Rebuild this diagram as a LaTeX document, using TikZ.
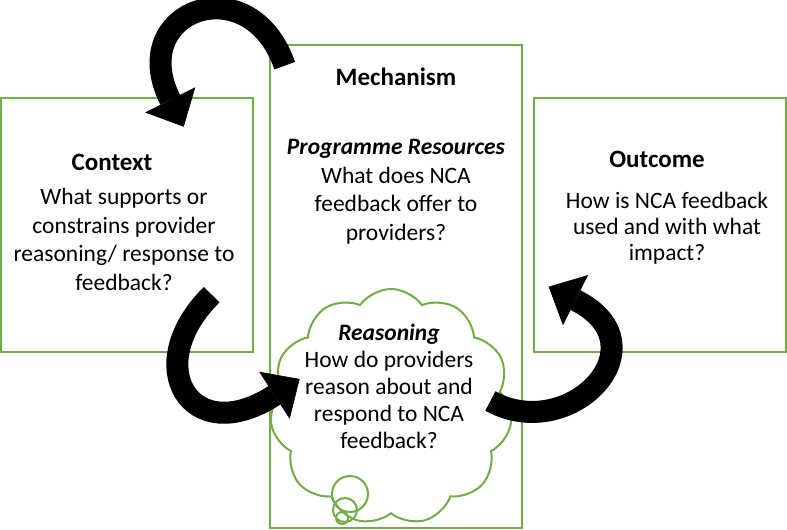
\documentclass[tikz,border=0pt]{standalone}
\usepackage{fontspec}
\setmainfont{Carlito}
\usetikzlibrary{arrows.meta,shapes.symbols}
\definecolor{leaf}{RGB}{112,173,71}
\tikzset{
  frame/.style={draw=leaf,line width=2.6pt,minimum width=252pt,inner sep=0pt},
  thought/.style={cloud,cloud puffs=11,cloud puff arc=110,draw=leaf,
    line width=2pt,minimum width=242pt,minimum height=236pt,inner sep=0pt},
  bubble/.style={draw=leaf,line width=2pt},
  head/.style={font=\fontsize{25}{29}\selectfont\bfseries},
  body/.style={font=\fontsize{23.5}{#1}\selectfont,align=center},
  body/.default=28.5,
  bend arrow/.style={line width=22pt,
    -{Triangle[length=30pt,width=56pt,line width=0.5pt]}},
}
\begin{document}
\begin{tikzpicture}[x=1pt,y=-1pt]
  \useasboundingbox (0,0) rectangle (787,530);
  % boxes
  \node[frame,minimum height=254pt] (ctx) at (127,225) {};
  \node[frame,minimum height=483pt] (mech) at (396,286.5) {};
  \node[frame,minimum height=254pt] (outc) at (660,225) {};
  \node[thought] (cloud) at (391,407) {};
  \foreach \x/\y/\r in {350/494/18,345/510/12,342/518/6}
    \draw[bubble] (\x,\y) circle (\r pt);
  % texts (anchor base = last line)
  \node[head,anchor=base] (ctx-t) at (112,170) {Context};
  \node[body,anchor=base] (ctx-q) at (124,290) {What supports or\\constrains provider\\reasoning/ response to\\feedback?};
  \node[head,anchor=base] (mech-t) at (396,85) {Mechanism};
  \node[body,anchor=base] (mech-q) at (396,240) {\textbf{\textit{Programme Resources}}\\What does NCA\\feedback offer to\\providers?};
  \node[body=27,anchor=base] (cloud-q) at (389,448) {\textbf{\textit{Reasoning}}\\How do providers\\reason about and\\respond to NCA\\feedback?};
  \node[head,anchor=base] (outc-t) at (657,167) {Outcome};
  \node[body=26,anchor=base] (outc-q) at (667,260) {How is NCA feedback\\used and with what\\impact?};
  % curved block arrows
  \coordinate (a1s) at ([shift={(16,22)}]mech.north west);
  \coordinate (a1e) at ([shift={(184,30)}]ctx.north west);
  \coordinate (a2s) at ([shift={(212,198)}]ctx.north west);
  \coordinate (a2e) at ([shift={(28,-28)}]cloud.west);
  \coordinate (a3s) at ([shift={(-20,-6)}]cloud.east);
  \coordinate (a3e) at ([shift={(16,190)}]outc.north west);
  \draw[bend arrow] (a1s) .. controls (250,-35) and (125,10) .. (a1e);
  \draw[bend arrow] (a2s) .. controls (140,365) and (190,450) .. (a2e);
  \draw[bend arrow] (a3s) .. controls (570,445) and (665,345) .. (a3e);
\end{tikzpicture}
\end{document}
